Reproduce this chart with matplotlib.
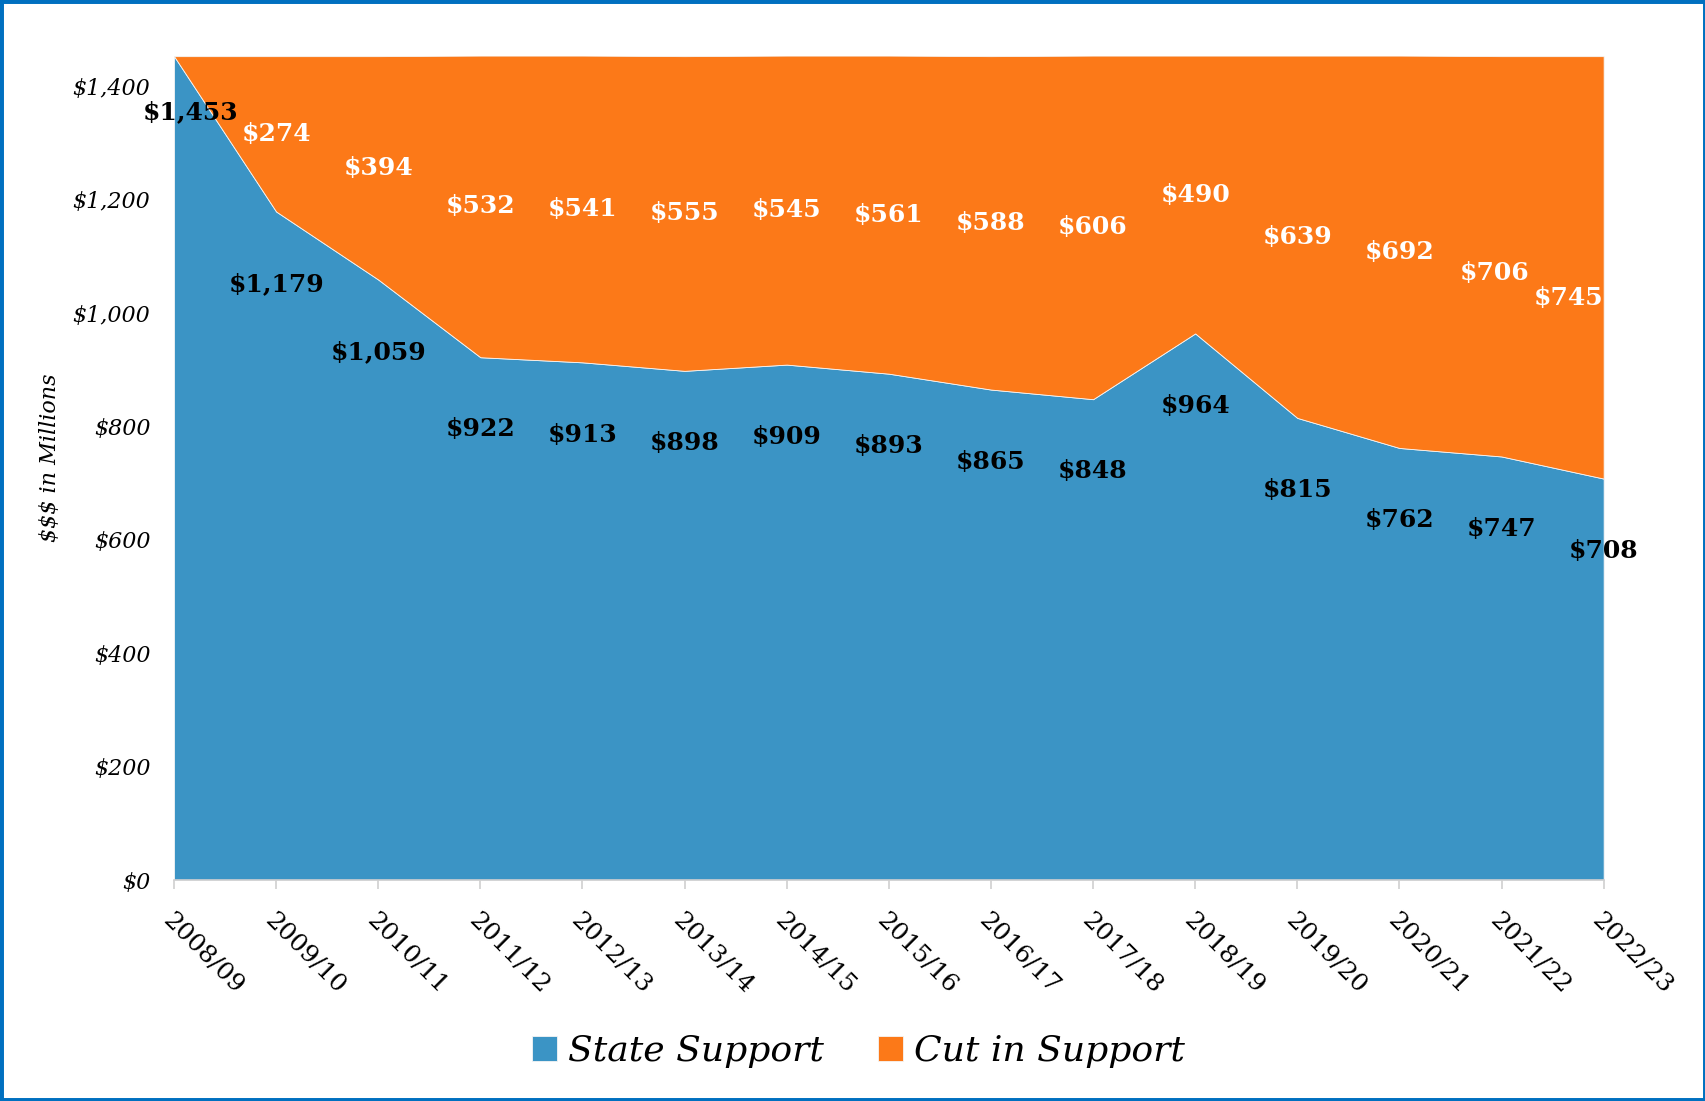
import matplotlib.pyplot as plt
import matplotlib.ticker as ticker
from matplotlib.patches import Rectangle

# fiscal years and support levels, $ millions
years = ["2008/09", "2009/10", "2010/11", "2011/12", "2012/13", "2013/14",
         "2014/15", "2015/16", "2016/17", "2017/18", "2018/19", "2019/20",
         "2020/21", "2021/22", "2022/23"]
state_support = [1453, 1179, 1059, 922, 913, 898, 909, 893, 865, 848,
                 964, 815, 762, 747, 708]
cut_in_support = [0, 274, 394, 532, 541, 555, 545, 561, 588, 606,
                  490, 639, 692, 706, 745]

blue = "#3b94c5"
orange = "#fc7918"
frame_blue = "#0070c0"

plt.rcParams['font.family'] = ['DejaVu Serif']

fig = plt.figure(figsize=(17.06, 11.01), dpi=100)
ax = fig.add_axes([0.102, 0.2007, 0.838, 0.7483])

x = list(range(len(years)))
ax.stackplot(x, state_support, cut_in_support, colors=[blue, orange],
             labels=["State Support", "Cut in Support"],
             edgecolor="#f5f5f5", linewidth=0.6)

ax.set_xlim(0, len(years) - 1)
ax.set_ylim(0, 1453)

# axis styling
for side in ["left", "top", "right"]:
    ax.spines[side].set_visible(False)
ax.spines["bottom"].set_color("#d0d0d0")
ax.spines["bottom"].set_linewidth(1.2)

ax.set_yticks(range(0, 1401, 200))
ax.yaxis.set_major_formatter(ticker.FuncFormatter(lambda v, p: rf"\${v:,.0f}"))
ax.tick_params(axis="y", length=0, pad=17, labelsize=16)
for lab in ax.get_yticklabels():
    lab.set_fontstyle("italic")

ax.set_xticks(x)
ax.set_xticklabels(years, rotation=-45, ha="left", va="top",
                   rotation_mode="anchor", fontsize=18)
ax.tick_params(axis="x", length=6.5, width=1.2, color="#d0d0d0", pad=14)

ax.set_ylabel(r"\$\$\$ in Millions", fontsize=16, fontstyle="italic")
ax.yaxis.set_label_coords(-0.079, 0.513)

# value labels: state support under the line, cut centred in the orange band
last = len(years) - 1
for i, (s, c) in enumerate(zip(state_support, cut_in_support)):
    dx, dy = (12, -40) if i == 0 else (0, -52)
    ax.annotate(rf"\${s:,}", (i, s), xytext=(dx, dy), textcoords="offset points",
                ha="center", va="center", fontsize=18, fontweight="bold",
                color="black", annotation_clip=False)
    if c > 0:
        ha = "right" if i == last else "center"
        if i == last:
            off = (0, -22)
        elif i == last - 1:
            off = (-5, -12)
        else:
            off = (0, 0)
        ax.annotate(rf"\${c:,}", (i, s + c / 2), xytext=off,
                    textcoords="offset points", ha=ha, va="center",
                    fontsize=18, fontweight="bold", color="white")

leg = fig.legend(loc="center", bbox_to_anchor=(0.503, 0.045), ncol=2,
                 frameon=False, prop={"size": 26, "style": "italic"},
                 handlelength=0.7, handleheight=0.7, handletextpad=0.3,
                 columnspacing=1.5)

# blue frame round the whole figure
fig.patches.append(Rectangle((0, 0), 1, 1, transform=fig.transFigure,
                             fill=False, edgecolor=frame_blue, linewidth=5,
                             zorder=10))

fig.savefig("out.png", dpi=100)
